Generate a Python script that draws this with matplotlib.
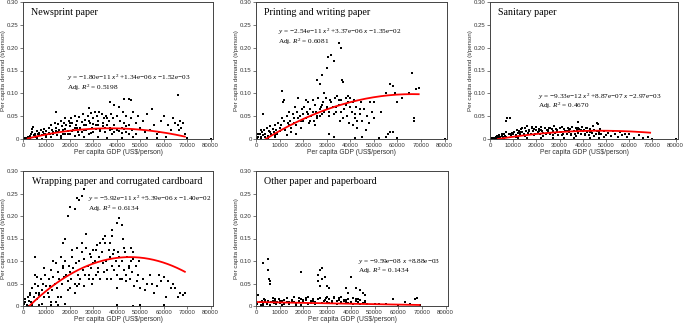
import matplotlib
matplotlib.use("Agg")
import matplotlib.pyplot as plt
import numpy as np

# ---------------- data (x in thousand US$/person, y in t/person) ----------------
titles = ["Newsprint paper", "Printing and writing paper", "Sanitary paper",
          "Wrapping paper and corrugated cardboard", "Other paper and paperboard"]

news_x = [0.5,1,1.5,2,2.5,3,3.5,4,4,4.2,4.5,5,5.5,6,6.5,7,7.5,8,8.5,9,9.5,10,10,3,6,8,
          11,11.5,12,12.5,13,13.5,14,14,14.5,15,15.5,16,16.5,17,17.5,18,18,18.5,19,19.5,20,20,12,16,
          20.5,21,21.5,22,22.5,23,23.5,24,24.5,25,25.5,26,26.5,27,27.5,28,28,28.5,29,29.5,30,30,22,26,
          30.5,31,31.5,32,32.5,33,33.5,34,34.5,35,35.5,36,36.5,37,37,37.5,38,38.5,39,39,40,40,32,36,
          41,41.5,42,42.5,43,43,44,44,45,45,46,46,46.5,47,48,48,49,50,42,47,
          51,52,53,54,55,56,57,58,59,60,61,62,63,64,65,66,66,66.5,67,67.5,68,69,70,80,53,57,
          2,3,5,7,9,11,13,15,17,19,21,23,25,27,29,31,33,35,37,39,41,43,45,6,10,14,18,22,26,30,34,38,42,44,16,20,24,28,32,36]
news_y = [0.001,0.002,0.003,0.004,0.002,0.006,0.010,0.015,0.022,0.027,0.008,0.012,0.005,0.018,0.010,0.014,0.020,0.008,0.016,0.022,0.012,0.018,0.005,0.001,0.002,0.001,
          0.025,0.010,0.030,0.020,0.015,0.035,0.060,0.025,0.008,0.032,0.020,0.040,0.028,0.012,0.036,0.045,0.022,0.030,0.018,0.040,0.028,0.010,0.004,0.003,
          0.045,0.035,0.020,0.050,0.030,0.040,0.015,0.048,0.025,0.038,0.055,0.020,0.042,0.030,0.050,0.068,0.010,0.035,0.058,0.025,0.045,0.015,0.006,0.004,
          0.060,0.030,0.050,0.040,0.060,0.020,0.055,0.035,0.045,0.015,0.050,0.030,0.040,0.080,0.025,0.055,0.010,0.045,0.075,0.030,0.050,0.020,0.005,0.003,
          0.070,0.040,0.025,0.060,0.087,0.035,0.050,0.015,0.088,0.030,0.085,0.045,0.020,0.060,0.035,0.010,0.050,0.025,0.003,0.005,
          0.040,0.015,0.055,0.020,0.065,0.030,0.010,0.015,0.040,0.050,0.005,0.030,0.020,0.045,0.035,0.097,0.030,0.020,0.040,0.025,0.035,0.010,0.002,0.000,0.003,0.002,
          0.002,0.004,0.006,0.009,0.011,0.013,0.010,0.016,0.020,0.012,0.018,0.024,0.015,0.020,0.014,0.022,0.018,0.025,0.020,0.015,0.018,0.022,0.012,0.004,0.009,0.017,0.012,0.025,0.030,0.033,0.028,0.022,0.014,0.028,0.006,0.035,0.008,0.040,0.030,0.045]

print_x = [0.5,1,1.5,2,2.5,3,3,3.5,4,4.5,5,5.5,6,6.5,7,7.5,8,8.5,9,9.5,10,2,5,8,
           10.5,11,11,11.5,12,12.5,13,13.5,14,14.5,15,15.5,16,16.5,17,17.5,18,18.5,19,19.5,20,13,17,
           20.5,21,21.5,22,22.5,23,23.5,24,24.5,25,25.5,26,26,26.5,27,27,27.5,28,28,28.5,29,29.5,30,30,
           30.5,31,31.5,32,32.5,33,33.5,34,34.5,35,35,35.5,36,36,36.5,37,37.5,38,38.5,39,39.5,40,31,33,
           40.5,41,41.5,42,42.5,43,44,44.5,45,46,46.5,47,48,48.5,49,50,42,45,
           50,52,53,55,55,57,57,58,59,60,60,62,65,66,67,67,68,69,52,56,58,80,
           1,2,4,6,8,10,12,14,16,18,20,22,24,26,28,30,32,34,36,38,40,42,44,15,19,23,27,31,35,39,43,21,25,29,33,37,41]
print_y = [0.002,0.005,0.010,0.004,0.015,0.008,0.055,0.020,0.012,0.025,0.006,0.018,0.028,0.010,0.022,0.015,0.030,0.020,0.012,0.035,0.025,0.001,0.002,0.004,
           0.030,0.105,0.045,0.080,0.085,0.020,0.050,0.035,0.060,0.040,0.025,0.055,0.045,0.070,0.030,0.060,0.090,0.050,0.040,0.065,0.055,0.008,0.010,
           0.070,0.045,0.060,0.080,0.035,0.065,0.050,0.085,0.040,0.075,0.060,0.130,0.050,0.090,0.120,0.065,0.070,0.140,0.055,0.080,0.060,0.090,0.155,0.070,
           0.180,0.050,0.085,0.185,0.070,0.170,0.090,0.060,0.095,0.210,0.075,0.040,0.200,0.085,0.130,0.125,0.065,0.090,0.050,0.080,0.035,0.070,0.010,0.005,
           0.060,0.030,0.085,0.045,0.070,0.025,0.055,0.080,0.040,0.065,0.020,0.050,0.035,0.080,0.060,0.045,0.002,0.005,
           0.080,0.003,0.060,0.100,0.005,0.120,0.015,0.115,0.100,0.080,0.002,0.090,0.100,0.145,0.045,0.040,0.110,0.112,0.000,0.010,0.015,0.000,
           0.010,0.020,0.004,0.015,0.008,0.018,0.040,0.030,0.035,0.045,0.040,0.055,0.060,0.045,0.075,0.065,0.080,0.070,0.060,0.075,0.090,0.055,0.065,0.015,0.025,0.040,0.050,0.060,0.085,0.095,0.040,0.085,0.030,0.100,0.055,0.045,0.080]

san_x = [0.5,1,1.5,2,2.5,3,3.5,4,4.5,5,5.5,6,6.5,7,7,7.5,8,8.5,9,9.5,10,3,6,
         10.5,11,11.5,12,12.5,13,13.5,14,14.5,15,15.5,16,16.5,17,17.5,18,18.5,19,19.5,20,20,12,16,
         20.5,21,21.5,22,22.5,23,23.5,24,24.5,25,25.5,26,26.5,27,27.5,28,28.5,29,29.5,30,22,27,
         30.5,31,31.5,32,32.5,33,33.5,34,34.5,35,35.5,36,36.5,37,37.5,38,38,38.5,39,39.5,40,32,36,
         40.5,41,41.5,42,42.5,43,43.5,44,44.5,45,45.5,46,46.5,47,47.5,48,49,50,43,47,
         51,52,53,54,55,56,57,58,59,60,62,64,66,68,70,80,
         2,4,5,7,9,11,13,15,17,19,21,23,25,27,29,31,33,35,37,39,41,43,45,47,49,14,18,22,26,30,34,38,42,46]
san_y = [0.001,0.002,0.003,0.001,0.004,0.006,0.003,0.008,0.005,0.010,0.004,0.012,0.007,0.040,0.015,0.045,0.010,0.047,0.008,0.014,0.011,0.000,0.001,
         0.016,0.009,0.020,0.013,0.018,0.010,0.022,0.015,0.012,0.025,0.018,0.028,0.014,0.020,0.010,0.025,0.017,0.022,0.012,0.019,0.027,0.003,0.002,
         0.015,0.022,0.010,0.026,0.018,0.014,0.024,0.011,0.020,0.016,0.025,0.012,0.021,0.017,0.028,0.013,0.022,0.019,0.009,0.024,0.002,0.003,
         0.016,0.026,0.012,0.021,0.018,0.010,0.025,0.015,0.022,0.008,0.027,0.017,0.012,0.024,0.019,0.038,0.014,0.022,0.010,0.026,0.018,0.002,0.003,
         0.020,0.012,0.025,0.016,0.009,0.022,0.018,0.013,0.028,0.020,0.010,0.035,0.032,0.015,0.022,0.012,0.018,0.008,0.002,0.003,
         0.014,0.006,0.018,0.010,0.004,0.015,0.008,0.012,0.005,0.010,0.003,0.008,0.002,0.005,0.001,0.000,
         0.002,0.004,0.006,0.005,0.012,0.005,0.015,0.007,0.017,0.008,0.018,0.006,0.019,0.009,0.016,0.008,0.018,0.012,0.007,0.020,0.008,0.015,0.006,0.011,0.004,0.023,0.026,0.020,0.023,0.015,0.020,0.025,0.024,0.018]

wrap_x = [0.5,1,1.5,2,2.5,3,3.5,4,4.5,5,5,5.5,6,6,6.5,7,7.5,8,8.5,9,9.5,10,2,4,7,
          10.5,11,11.5,12,12.5,13,13.5,14,14.5,15,15.5,16,16.5,17,17,17.5,18,18,18.5,19,19,19.5,20,20,12,15,
          20.5,21,21.5,22,22,22.5,23,23,23.5,24,24,24.5,25,25,25.5,26,26,26.5,27,27.5,28,28.5,29,29.5,30,30,
          30.5,31,31.5,32,32.5,33,33.5,34,34.5,35,35.5,36,36.5,37,37.5,38,38,38.5,39,39.5,40,40,
          40.5,41,41,41.5,42,42,42.5,43,43.5,44,44.5,45,45.5,46,46.5,47,47.5,48,48.5,49,49.5,50,40,47,
          51,52,53,54,55,56,57,58,59,60,61,62,63,64,65,66,67,68,69,50,60,
          1,3,5,7,9,11,13,15,17,19,21,23,25,27,29,31,33,35,37,39,41,43,45,47,8,12,16,20,24,28,32,36,40,44,14,18,22,26,30,34,38,42,46]
wrap_y = [0.005,0.010,0.003,0.020,0.012,0.030,0.008,0.040,0.020,0.110,0.050,0.030,0.065,0.015,0.045,0.025,0.060,0.035,0.050,0.020,0.070,0.045,0.001,0.002,0.003,
          0.030,0.060,0.045,0.080,0.035,0.065,0.050,0.095,0.040,0.075,0.060,0.110,0.050,0.140,0.085,0.065,0.150,0.100,0.070,0.200,0.055,0.090,0.220,0.075,0.003,0.002,
          0.060,0.110,0.085,0.215,0.050,0.095,0.240,0.130,0.070,0.235,0.100,0.060,0.245,0.120,0.080,0.260,0.105,0.070,0.130,0.090,0.060,0.115,0.085,0.050,0.125,0.095,
          0.100,0.070,0.135,0.085,0.110,0.060,0.120,0.095,0.075,0.140,0.100,0.080,0.125,0.110,0.060,0.170,0.090,0.115,0.080,0.100,0.185,0.070,
          0.120,0.195,0.090,0.060,0.180,0.100,0.150,0.080,0.120,0.055,0.110,0.090,0.060,0.130,0.075,0.105,0.045,0.090,0.055,0.070,0.100,0.040,0.002,0.000,
          0.060,0.035,0.050,0.070,0.050,0.030,0.045,0.070,0.055,0.065,0.020,0.055,0.040,0.050,0.040,0.020,0.030,0.025,0.030,0.002,0.003,
          0.015,0.025,0.070,0.030,0.085,0.020,0.100,0.020,0.090,0.035,0.125,0.045,0.140,0.160,0.110,0.125,0.140,0.155,0.140,0.125,0.110,0.130,0.085,0.120,0.005,0.010,0.020,0.040,0.050,0.070,0.075,0.060,0.040,0.070,0.010,0.005,0.030,0.045,0.060,0.150,0.155,0.060,0.100]

oth_x = [0.5,1,1.5,2,2.5,3,3,3.5,4,4.5,5,5,5,5.5,5.8,6,6.5,7,7.5,8,8.5,9,9.5,10,
         11,12,13,14,15,16,17,18,19,19,20,
         21,22,23,24,25,26,26,27,27,28,28,28.5,29,29.5,30,30,
         31,31,32,33,34,35,36,37,38,38,39,39,40,40,41,42,42,43,44,44,45,45,46,46,47,
         50,52,55,58,60,63,65,67,68,69,
         2,4,6,8,10,12,14,16,18,20,22,24,26,28,30,32,34,36,38,40,42,44,46,11,15,19,23,27,31,35,39,43,3,7,13,17,21,25,29,33,37,41,45]
oth_y = [0.005,0.025,0.008,0.003,0.012,0.095,0.006,0.015,0.010,0.004,0.105,0.080,0.012,0.060,0.050,0.055,0.008,0.018,0.006,0.012,0.004,0.010,0.016,0.007,
         0.012,0.005,0.018,0.009,0.014,0.020,0.006,0.012,0.075,0.016,0.008,
         0.014,0.020,0.007,0.015,0.010,0.070,0.055,0.080,0.045,0.085,0.060,0.012,0.065,0.018,0.045,0.008,
         0.040,0.015,0.010,0.020,0.012,0.017,0.008,0.014,0.040,0.010,0.030,0.015,0.065,0.006,0.018,0.040,0.012,0.008,0.035,0.014,0.030,0.006,0.025,0.010,0.004,
         0.005,0.004,0.005,0.015,0.003,0.010,0.005,0.015,0.018,0.002,
         0.010,0.013,0.003,0.015,0.011,0.013,0.004,0.009,0.017,0.013,0.005,0.011,0.015,0.006,0.019,0.012,0.005,0.020,0.013,0.009,0.016,0.004,0.012,0.002,0.008,0.003,0.012,0.018,0.006,0.013,0.007,0.016,0.002,0.012,0.009,0.003,0.018,0.004,0.014,0.017,0.011,0.004,0.007]

# fit coefficients (a x^2 + b x + c, x in US$) and curve x-ranges
fit_coefs = [(-1.80e-11, 1.34e-06, -1.52e-03),
             (-2.54e-11, 3.37e-06, -1.35e-02),
             (-9.33e-12, 8.87e-07, -2.97e-03),
             (-5.92e-11, 5.39e-06, -1.40e-02),
             (0.0, -9.59e-08, 8.88e-03)]
fit_ranges = [(2000, 69000), (4100, 69000), (3400, 69000), (2700, 69000), (0, 69000)]
eq_texts = [r"$y$ = −1.80e−11 $x^2$ +1.34e−06 $x$ −1.52e−03",
            r"$y$ = −2.54e−11 $x^2$ +3.37e−06 $x$ −1.35e−02",
            r"$y$ = −9.33e−12 $x^2$ +8.87e−07 $x$ −2.97e−03",
            r"$y$ = −5.92e−11 $x^2$ +5.39e−06 $x$ −1.40e−02",
            r"$y$ = −9.59e−08 $x$ +8.88e−03"]
r2_texts = ["0.5198", "0.6081", "0.4670", "0.6134", "0.1434"]
xticks = [0, 10000, 20000, 30000, 40000, 50000, 60000, 70000, 80000]
yticks = [0, 0.05, 0.10, 0.15, 0.20, 0.25, 0.30]
ytick_labels = ["0", "0.05", "0.10", "0.15", "0.20", "0.25", "0.30"]

# ---------------- layout ----------------
W, H = 685, 323
plt.rcParams['mathtext.fontset'] = 'custom'
plt.rcParams['mathtext.it'] = 'Liberation Serif:italic'
plt.rcParams['mathtext.rm'] = 'Liberation Serif'
fig = plt.figure(figsize=(W / 100, H / 100), dpi=100)

rects_px = [(23, 213, 2, 139), (256, 447, 2, 139), (490, 678, 2, 139),
            (23, 213, 171, 306), (256, 448, 171, 306)]
title_pos = [(0.04, 0.92), (0.04, 0.92), (0.04, 0.92), (0.045, 0.92), (0.04, 0.92)]
eq_pos = [(0.23, 0.445), (0.115, 0.78), (0.255, 0.31), (0.34, 0.79), (0.53, 0.33)]

xs = [news_x, print_x, san_x, wrap_x, oth_x]
ys = [news_y, print_y, san_y, wrap_y, oth_y]

spine_c = "#444444"
for i in range(5):
    l, r, t, b = rects_px[i]
    ax = fig.add_axes([l / W, (H - b) / H, (r - l) / W, (b - t) / H])
    ax.scatter(np.array(xs[i]) * 1000, ys[i], s=2.6, marker='s', c='black', linewidths=0)
    a, bb, c = fit_coefs[i]
    xx = np.linspace(fit_ranges[i][0], fit_ranges[i][1], 200)
    ax.plot(xx, a * xx ** 2 + bb * xx + c, color='red', lw=1.3)
    ax.set_xlim(0, 81000)
    ax.set_ylim(0, 0.30)
    ax.set_xticks(xticks)
    ax.set_xticklabels([str(v) for v in xticks])
    ax.set_yticks(yticks)
    ax.set_yticklabels(ytick_labels)
    ax.tick_params(labelsize=4.3, length=2, width=0.5, pad=1, colors=spine_c, labelcolor="#333333")
    for s in ax.spines.values():
        s.set_color(spine_c)
        s.set_linewidth(0.7)
    ax.set_xlabel("Per capita GDP (US$/person)", fontsize=4.9, color="#333333", labelpad=0.5,
                  family="Liberation Sans")
    ax.set_ylabel("Per capita demand (t/person)", fontsize=4.5, color="#333333", labelpad=0.8,
                  family="Liberation Sans")
    for lab in ax.get_xticklabels() + ax.get_yticklabels():
        lab.set_family("Liberation Sans")
    ax.text(title_pos[i][0], title_pos[i][1], titles[i], transform=ax.transAxes,
            fontsize=7.2, family="Liberation Serif", va='center', ha='left')
    ex, ey = eq_pos[i]
    ax.text(ex, ey, eq_texts[i], transform=ax.transAxes, fontsize=5.2,
            family="Liberation Serif", va='center', ha='left')
    ax.text(ex, ey - 0.07, r"Adj. $R^2$ = " + r2_texts[i], transform=ax.transAxes, fontsize=5.2,
            family="Liberation Serif", va='center', ha='left')

fig.savefig("out.png", dpi=100)
